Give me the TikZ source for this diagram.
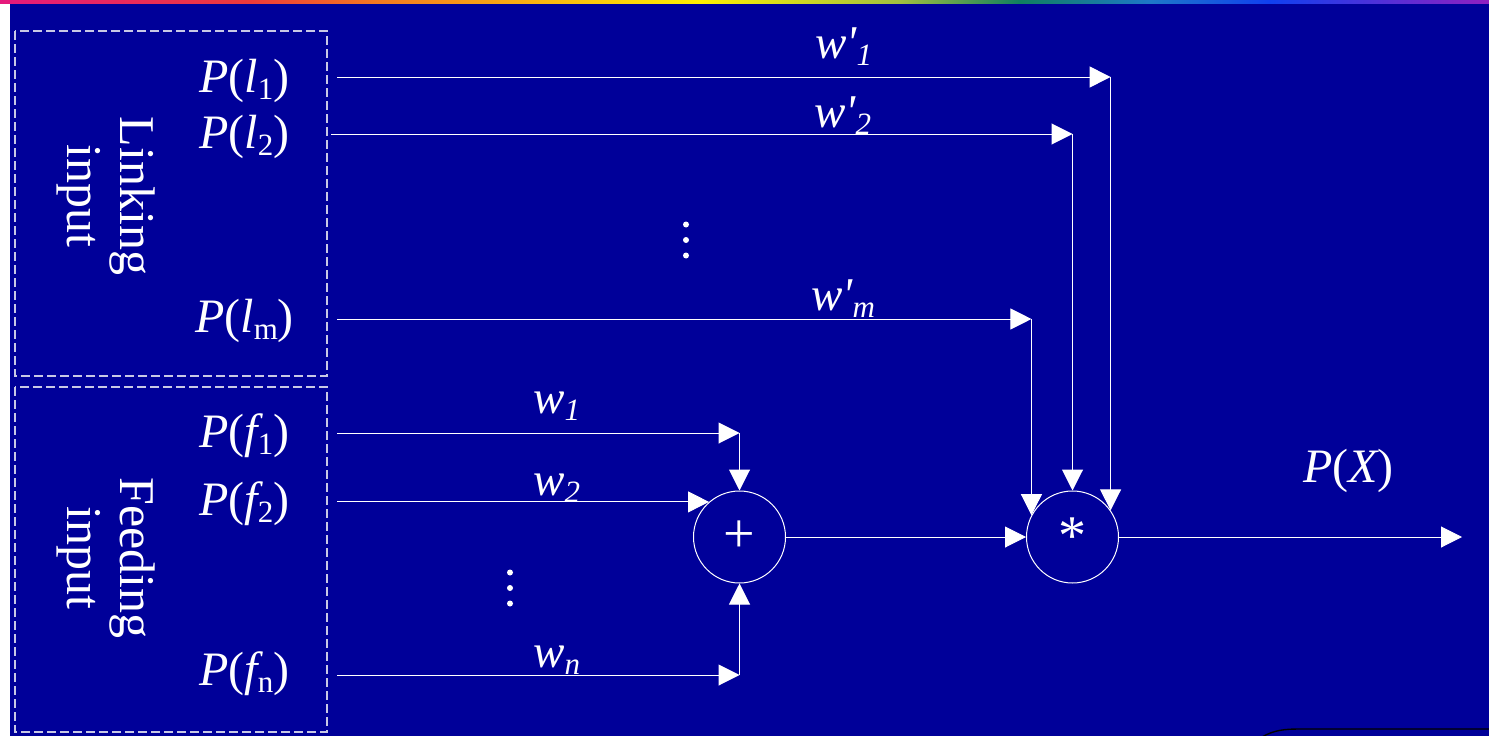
\documentclass[tikz,border=0pt]{standalone}
\usepackage{fontspec}
\newfontfamily\tm{Liberation Serif}
\usetikzlibrary{arrows.meta,calc}
\definecolor{bg}{RGB}{0,0,153}
\definecolor{rb0}{HTML}{E5197D}
\definecolor{rb1}{HTML}{EE3A3A}
\definecolor{rb2}{HTML}{F57A20}
\definecolor{rb3}{HTML}{FFF000}
\definecolor{rb4}{HTML}{A0C040}
\definecolor{rb5}{HTML}{108060}
\definecolor{rb6}{HTML}{1E78C8}
\definecolor{rb7}{HTML}{1040F0}
\definecolor{rb8}{HTML}{9020C0}
\definecolor{grpline}{RGB}{200,200,230}
\newcommand\sbx[1]{\raisebox{-7pt}{\fontsize{31}{31}\selectfont #1}}
\begin{document}
\begin{tikzpicture}[x=1pt,y=-1pt,
  conn/.style={draw=white, line width=1pt, -{Triangle[length=21pt,width=21pt]}},
  lbl/.style={text=white, inner sep=0pt, anchor=base west, font={\tm\fontsize{48}{52}\selectfont}},
  wlbl/.style={text=white, inner sep=0pt, anchor=base west, font={\tm\fontsize{47}{52}\selectfont}},
  side/.style={text=white, inner sep=0pt, rotate=-90, align=center, font={\tm\fontsize{50}{47}\selectfont}},
  opnode/.style={circle, draw=white, line width=1pt, minimum size=92pt, inner sep=0pt, text=white, font={\tm\fontsize{56}{60}\selectfont}},
  grp/.style={draw=grpline, dash pattern=on 9pt off 4pt, line width=1.2pt},
  vdot/.style={circle, fill=white, inner sep=0pt, minimum size=6pt}]
\useasboundingbox (0,0) rectangle (1489,736);
% background
\fill[bg] (0,0) rectangle (1489,736);
\fill[white] (0,0) rectangle (10,736);
\shade[left color=rb0,right color=rb1] (0,0) rectangle (250,3);
\shade[left color=rb1,right color=rb2] (250,0) rectangle (380,3);
\shade[left color=rb2,right color=rb3] (380,0) rectangle (700,3);
\shade[left color=rb3,right color=rb4] (700,0) rectangle (900,3);
\shade[left color=rb4,right color=rb5] (900,0) rectangle (1020,3);
\shade[left color=rb5,right color=rb6] (1020,0) rectangle (1150,3);
\shade[left color=rb6,right color=rb7] (1150,0) rectangle (1270,3);
\shade[left color=rb7,right color=rb8] (1270,0) rectangle (1489,3);
% bottom-right rounded edge
\draw[black, line width=1.4pt] (1262,737) .. controls (1274,730) and (1285,729) .. (1300,729) -- (1490,729);

% input groups
\draw[grp] (15,31) rectangle (327,376);
\draw[grp] (15,387) rectangle (327,732);
\node[side] (link) at (106,196) {Linking\\[6pt]input};
\node[side] (feed) at (106,558) {Feeding\\[6pt]input};

% input labels
\node[lbl] (pl1) at (199,92) {\itshape P\upshape(\itshape l\upshape\sbx{1})};
\node[lbl] (pl2) at (199,148) {\itshape P\upshape(\itshape l\upshape\sbx{2})};
\node[lbl] (plm) at (195,332) {\itshape P\upshape(\itshape l\upshape\sbx{m})};
\node[lbl] (pf1) at (199,447) {\itshape P\upshape(\itshape f\upshape\sbx{1})};
\node[lbl] (pf2) at (199,515) {\itshape P\upshape(\itshape f\upshape\sbx{2})};
\node[lbl] (pfn) at (199,685) {\itshape P\upshape(\itshape f\upshape\sbx{n})};
\node[lbl] (px) at (1303,482) {\itshape P\upshape(\itshape X\upshape)};

% weight labels
\node[wlbl] (wp1) at (815,58) {\itshape w'\sbx{1}};
\node[wlbl] (wp2) at (814,127) {\itshape w'\sbx{2}};
\node[wlbl] (wpm) at (811,310) {\itshape w'\sbx{m}};
\node[wlbl] (w1) at (533,413) {\itshape w\sbx{1}};
\node[wlbl] (w2) at (533,495) {\itshape w\sbx{2}};
\node[wlbl] (wn) at (533,667) {\itshape w\sbx{n}};

% vertical dots
\node[vdot] (da1) at (686,224.5) {};
\node[vdot] (da2) at (686,240) {};
\node[vdot] (da3) at (686,255.5) {};
\node[vdot] (db1) at (510,572.5) {};
\node[vdot] (db2) at (510,588) {};
\node[vdot] (db3) at (510,603.5) {};

% operators
\node[opnode] (plus) at (739.5,537) {\raisebox{-2pt}{+}};
\node[opnode] (star) at (1072.5,537) {\raisebox{2pt}{*}};

% connector ends
\coordinate (l1s) at (337,77);
\coordinate (l2s) at (331,134);
\coordinate (lms) at (337,319);
\coordinate (f1s) at (337,433);
\coordinate (fns) at (337,675);
\coordinate (f2s) at (plus.131 -| l1s);
\coordinate (c1) at (star.35 |- l1s);
\coordinate (c2) at (star.north |- l2s);
\coordinate (cm) at (star.152 |- lms);
\coordinate (cf1) at (plus.north |- f1s);
\coordinate (cfn) at (plus.south |- fns);
\coordinate (out) at (1462,537);

% connectors
\draw[conn] (l1s) -- (c1);
\draw[conn] (c1) -- (star.35);
\draw[conn] (l2s) -- (c2);
\draw[conn] (c2) -- (star.north);
\draw[conn] (lms) -- (cm);
\draw[conn] (cm) -- (star.152);
\draw[conn] (f1s) -- (cf1);
\draw[conn] (cf1) -- (plus.north);
\draw[conn] (f2s) -- (plus.131);
\draw[conn] (fns) -- (cfn);
\draw[conn] (cfn) -- (plus.south);
\draw[conn] (plus) -- (star);
\draw[conn] (star) -- (out);
\end{tikzpicture}
\end{document}
